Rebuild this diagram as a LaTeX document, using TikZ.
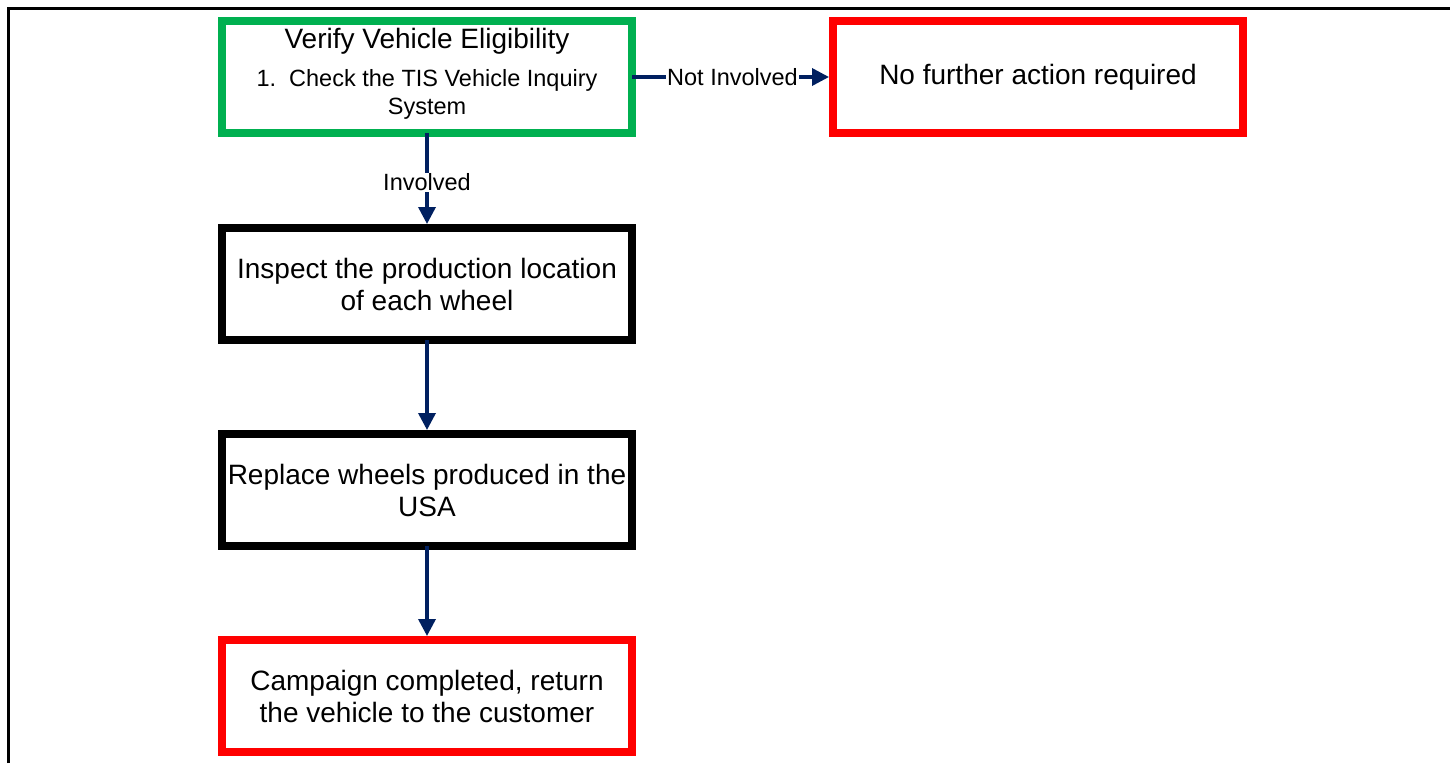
\documentclass[tikz,border=0pt]{standalone}
\usepackage{fontspec}
\setmainfont{Liberation Sans}
\usetikzlibrary{arrows.meta}
\definecolor{boxgreen}{HTML}{00B050}
\definecolor{boxred}{HTML}{FF0000}
\definecolor{navy}{HTML}{002060}
\tikzset{
  flowbox/.style={draw, line width=8pt, minimum width=410pt, minimum height=112pt,
    align=center, font=\fontsize{28}{32}\selectfont, fill=white, inner sep=2pt},
  greenbox/.style={flowbox, draw=boxgreen},
  redbox/.style={flowbox, draw=boxred},
  blackbox/.style={flowbox, draw=black},
  flowarrow/.style={draw=navy, line width=3.5pt, -{Triangle[length=17pt,width=17pt]}, shorten <=-4pt},
  flowlabel/.style={fill=white, inner sep=1pt, font=\fontsize{23.5}{26}\selectfont},
  frameline/.style={line width=3pt, draw=black}
}
\begin{document}
\begin{tikzpicture}[x=1pt,y=-1pt]
\useasboundingbox (0,0) rectangle (1450,763);
\coordinate (fA) at (8,763);
\coordinate (fB) at (8,8);
\coordinate (fC) at (1450,8);
\draw[frameline] (fA) -- (fB) -- (fC);

\node[greenbox] (verify) at (427,77) {};
\node[font=\fontsize{28}{32}\selectfont] (vt) at (427,41) {Verify Vehicle Eligibility};
\node[font=\fontsize{23.5}{28}\selectfont, align=center] (vl) at (427,94) {1.\ \ Check the TIS Vehicle Inquiry\\System};

\node[redbox] (nofurther) at (1038,77) {No further action required};
\node[blackbox] (inspect) at (427,284) {Inspect the production location\\of each wheel};
\node[blackbox] (replace) at (427,490) {Replace wheels produced in the\\USA};
\node[redbox] (campaign) at (427,696) {Campaign completed, return\\the vehicle to the customer};

\draw[flowarrow] (verify.east) -- node[flowlabel] {Not Involved} (nofurther.west);
\draw[flowarrow] (verify.south) -- node[flowlabel, pos=0.52] {Involved} (inspect.north);
\draw[flowarrow] (inspect.south) -- (replace.north);
\draw[flowarrow] (replace.south) -- (campaign.north);
\end{tikzpicture}
\end{document}
